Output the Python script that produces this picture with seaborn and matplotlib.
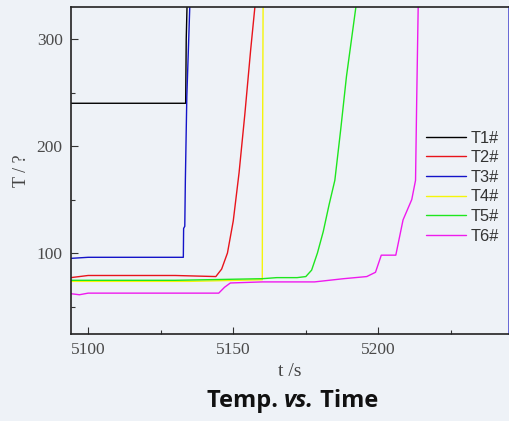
import numpy as np
import pandas as pd
import matplotlib
matplotlib.use("Agg")
import matplotlib.pyplot as plt
import seaborn as sns
from matplotlib.ticker import MultipleLocator

# ---- data ----
t1_t = [5094, 5133.6, 5133.8, 5134.2]
t1_v = [240, 240, 300, 345]

t2_t = [5094, 5097, 5100, 5130, 5144, 5146, 5148, 5150, 5152, 5154, 5156, 5158]
t2_v = [77, 78, 79, 79, 78, 85, 100, 130, 175, 230, 290, 345]

t3_t = [5094, 5100, 5132.8, 5132.9, 5133.3, 5133.5, 5134.0, 5134.5, 5135.2]
t3_v = [95, 96, 96, 123, 125, 168, 246, 287, 345]

t4_t = [5094, 5135, 5160, 5160.1, 5160.3]
t4_v = [73.5, 73.5, 75, 200, 345]

t5_t = [5094, 5130, 5140, 5160, 5165, 5172, 5175, 5177, 5179, 5181, 5183, 5185, 5187, 5189, 5193]
t5_v = [74.5, 74.5, 75, 76, 77, 77, 78, 84, 100, 120, 145, 168, 215, 265, 345]

t6_t = [5094, 5097, 5100, 5130, 5145, 5147, 5149, 5160, 5178, 5188, 5196, 5199, 5201, 5203, 5206,
        5208.5, 5211.5, 5212.8, 5213.2, 5213.8]
t6_v = [62, 61, 62.5, 62.5, 62.5, 68, 72, 73, 73, 76, 78, 82, 98, 98, 98,
        131, 150, 168, 243, 345]

series_names = ["T1#", "T2#", "T3#", "T4#", "T5#", "T6#"]
series_t = [t1_t, t2_t, t3_t, t4_t, t5_t, t6_t]
series_v = [t1_v, t2_v, t3_v, t4_v, t5_v, t6_v]
colors = ["#000000", "#e8141b", "#1414c8", "#f5f50a", "#1ee61e", "#ee1aee"]

x_ticks = [5100, 5150, 5200]
y_ticks = [100, 200, 300]

rows = []
for name, ts, vs in zip(series_names, series_t, series_v):
    for i, (a, b) in enumerate(zip(ts, vs)):
        rows.append({"t": a, "T": b, "series": name, "order": i})
df = pd.DataFrame(rows)

bg = "#eef2f7"
sns.set_theme(style="ticks")
plt.rcParams["font.family"] = ["Liberation Serif", "DejaVu Serif"]

fig = plt.figure(figsize=(5.10, 4.21), dpi=100, facecolor=bg)
ax = fig.add_axes([71/510, 1 - 334/421, (509 - 71)/510, (334 - 7)/421])
ax.set_facecolor(bg)

sns.lineplot(data=df, x="t", y="T", hue="series", hue_order=series_names,
             palette=dict(zip(series_names, colors)), sort=False, estimator=None,
             units="series", linewidth=1.0, ax=ax, legend=True)

ax.set_xlim(5094.1, 5245)
ax.set_ylim(24.3, 330)
ax.set_xticks(x_ticks)
ax.set_yticks(y_ticks)
ax.xaxis.set_minor_locator(MultipleLocator(25))
ax.yaxis.set_minor_locator(MultipleLocator(50))
ax.tick_params(axis="both", which="major", direction="in", length=5, width=0.8,
               labelsize=12.5, labelcolor="#4a4a4a", color="#333333", pad=6)
ax.tick_params(axis="both", which="minor", direction="in", length=3, width=0.8,
               color="#333333")
for s in ["left", "bottom", "top"]:
    ax.spines[s].set_color("#222222")
    ax.spines[s].set_linewidth(1.2)
ax.spines["right"].set_color("#5050d0")
ax.spines["right"].set_linewidth(1.2)

ax.set_xlabel("t /s", fontsize=14, color="#444444", labelpad=3)
ax.set_ylabel("T / ?", fontsize=13, color="#444444", labelpad=5)

leg = ax.legend(loc="upper left", bbox_to_anchor=(0.80, 0.637), frameon=False,
                handlelength=2.4, handletextpad=0.3, labelspacing=0.28,
                borderaxespad=0, borderpad=0.3,
                prop={"family": "Liberation Sans", "size": 11.8})
for txt in leg.get_texts():
    txt.set_color("#333333")

# Title-like caption at the bottom: "Temp. vs. Time" with italic "vs."
fig.canvas.draw()
r = fig.canvas.get_renderer()
parts = [("Temp. ", "normal"), ("vs.", "italic"), (" Time", "normal")]
x0 = 207 / 510
y0 = 1 - 401 / 421
for text, style in parts:
    tt = fig.text(x0, y0, text, fontsize=17, fontweight="bold", style=style,
                  family=["Open Sans", "DejaVu Sans"], color="#111111",
                  ha="left", va="center")
    bb = tt.get_window_extent(renderer=r)
    x0 += bb.width / fig.bbox.width

fig.savefig("out.png", dpi=100, facecolor=bg)
